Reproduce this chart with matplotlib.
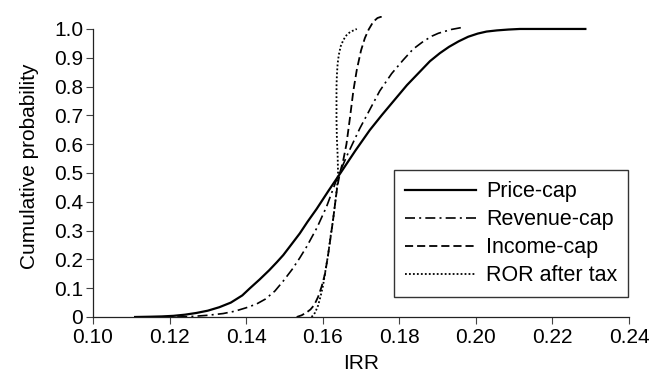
import matplotlib
matplotlib.use("Agg")
import matplotlib.pyplot as plt

plt.rcParams['font.family'] = ['Liberation Sans', 'DejaVu Sans']

# Price-cap (solid)
price_x = [0.111, 0.115, 0.118, 0.121, 0.124, 0.127, 0.130, 0.133, 0.136, 0.139,
           0.141, 0.1435, 0.146, 0.148, 0.1497, 0.152, 0.154, 0.156, 0.1584, 0.1615,
           0.1648, 0.1685, 0.1723, 0.1755, 0.1784, 0.182, 0.1854, 0.188, 0.1906, 0.193,
           0.1955, 0.198, 0.2005, 0.2028, 0.2055, 0.2085, 0.2115, 0.218, 0.2286]
price_y = [0.0, 0.001, 0.002, 0.004, 0.008, 0.014, 0.022, 0.034, 0.05, 0.075,
           0.10, 0.13, 0.162, 0.19, 0.215, 0.255, 0.29, 0.33, 0.375, 0.438,
           0.503, 0.577, 0.649, 0.702, 0.748, 0.805, 0.852, 0.888, 0.916, 0.938,
           0.957, 0.973, 0.984, 0.991, 0.995, 0.998, 1.0, 1.0, 1.0]

# Revenue-cap (dash-dot)
rev_x = [0.122, 0.126, 0.130, 0.134, 0.137, 0.140, 0.1427, 0.145, 0.1475, 0.1497,
         0.152, 0.154, 0.1558, 0.1585, 0.161, 0.1636, 0.1665, 0.1697, 0.1723, 0.1749,
         0.178, 0.181, 0.1836, 0.1862, 0.1885, 0.1902, 0.1935, 0.1967]
rev_y = [0.0, 0.002, 0.006, 0.012, 0.02, 0.032, 0.045, 0.062, 0.09, 0.125,
         0.165, 0.205, 0.244, 0.31, 0.383, 0.476, 0.565, 0.655, 0.72, 0.785,
         0.845, 0.892, 0.93, 0.956, 0.975, 0.985, 0.998, 1.006]

# Income-cap (dashed)
inc_x = [0.1532, 0.1545, 0.1558, 0.1568, 0.1578, 0.1588, 0.1597, 0.1606, 0.1614, 0.1621,
         0.1627, 0.1633, 0.1638, 0.1645, 0.1653, 0.1662, 0.1671, 0.168, 0.1689, 0.170,
         0.171, 0.172, 0.1732, 0.1743, 0.1754]
inc_y = [0.0, 0.006, 0.016, 0.026, 0.042, 0.07, 0.105, 0.15, 0.215, 0.28,
         0.337, 0.40, 0.452, 0.50, 0.54, 0.60, 0.69, 0.785, 0.858, 0.925,
         0.968, 0.998, 1.025, 1.038, 1.043]

# ROR after tax (dotted)
ror_x = [0.1571, 0.158, 0.1588, 0.1595, 0.1601, 0.1607, 0.1614, 0.162, 0.1627, 0.1633,
         0.1638, 0.164, 0.1639, 0.1637, 0.1636, 0.1636, 0.1636, 0.1637, 0.1639, 0.1642,
         0.1647, 0.1654, 0.1662, 0.1672, 0.1689]
ror_y = [0.0, 0.015, 0.04, 0.075, 0.11, 0.16, 0.215, 0.275, 0.337, 0.40,
         0.46, 0.50, 0.56, 0.62, 0.684, 0.75, 0.80, 0.84, 0.88, 0.91,
         0.94, 0.962, 0.978, 0.99, 1.0]

series_labels = ["Price-cap", "Revenue-cap", "Income-cap", "ROR after tax"]
x_ticks = [0.10, 0.12, 0.14, 0.16, 0.18, 0.20, 0.22, 0.24]
x_ticklabels = ["0.10", "0.12", "0.14", "0.16", "0.18", "0.20", "0.22", "0.24"]
y_ticks = [0, 0.1, 0.2, 0.3, 0.4, 0.5, 0.6, 0.7, 0.8, 0.9, 1.0]
y_ticklabels = ["0", "0.1", "0.2", "0.3", "0.4", "0.5", "0.6", "0.7", "0.8", "0.9", "1.0"]

fig = plt.figure(figsize=(6.5, 3.79), dpi=100)
ax = fig.add_axes([93/650, 62/379, (629-93)/650, (317-16)/379])

ax.plot(price_x, price_y, color='black', lw=1.6, ls='-', label=series_labels[0])
ax.plot(rev_x, rev_y, color='black', lw=1.2, ls=(0, (6, 2.5, 1.2, 2.5)), label=series_labels[1])
ax.plot(inc_x, inc_y, color='black', lw=1.3, ls=(0, (4.5, 2.2)), label=series_labels[2])
ax.plot(ror_x, ror_y, color='black', lw=1.3, ls=(0, (1.0, 1.2)), label=series_labels[3])

ax.set_xlim(0.10, 0.24)
ax.set_ylim(0, 1.045)
ax.spines['top'].set_visible(False)
ax.spines['right'].set_visible(False)
ax.spines['left'].set_bounds(0, 1.0)
for s in ('left', 'bottom'):
    ax.spines[s].set_linewidth(0.9)
    ax.spines[s].set_color('#222222')

ax.set_xticks(x_ticks)
ax.set_xticklabels(x_ticklabels)
ax.set_yticks(y_ticks)
ax.set_yticklabels(y_ticklabels)
ax.tick_params(direction='out', length=5, width=0.8, color='#444444', labelsize=15)
ax.tick_params(axis='y', pad=2)
ax.tick_params(axis='x', pad=3)

ax.set_xlabel("IRR", fontsize=15, labelpad=5)
ax.set_ylabel("Cumulative probability", fontsize=15, labelpad=11)

leg = ax.legend(loc='lower right', bbox_to_anchor=(0.998, 0.066), borderaxespad=0,
                fontsize=15.5, frameon=True, fancybox=False, edgecolor='black',
                handlelength=3.3, handletextpad=0.47, labelspacing=0.33,
                borderpad=0.5)
leg.get_frame().set_linewidth(1.0)

fig.savefig("out.png", dpi=100)
